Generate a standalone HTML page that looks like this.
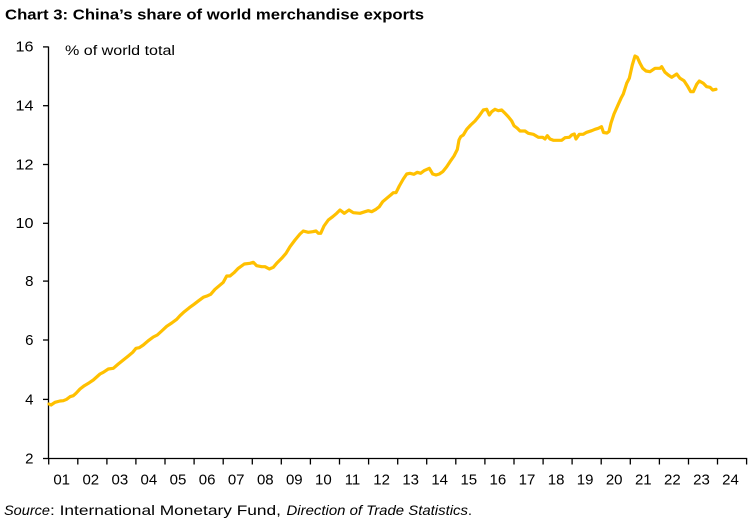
<!DOCTYPE html>
<html>
<head>
<meta charset="utf-8">
<style>
  html,body{margin:0;padding:0;background:#fff;}
  svg{display:block;}
  text{font-family:"Liberation Sans",sans-serif;fill:#000;}
</style>
</head>
<body>
<svg width="753" height="521" viewBox="0 0 753 521" xmlns="http://www.w3.org/2000/svg">
  <rect width="753" height="521" fill="#fff"/>
  <!-- Title -->
  <text x="5" y="19.5" font-size="15" font-weight="bold" textLength="419" lengthAdjust="spacingAndGlyphs">Chart 3: China’s share of world merchandise exports</text>

  <!-- units label -->
  <text x="65" y="55" font-size="13.5" textLength="110" lengthAdjust="spacingAndGlyphs">% of world total</text>

  <!-- Axes -->
  <line x1="48.5" y1="46.5" x2="48.5" y2="459" stroke="#000" stroke-width="1.3"/>
  <line x1="48" y1="458.5" x2="747.2" y2="458.5" stroke="#000" stroke-width="1.3"/>

  <!-- Y ticks -->
  <g stroke="#000" stroke-width="1.3">
    <line x1="43" y1="46.9" x2="48.5" y2="46.9"/>
    <line x1="43" y1="105.7" x2="48.5" y2="105.7"/>
    <line x1="43" y1="164.5" x2="48.5" y2="164.5"/>
    <line x1="43" y1="223.3" x2="48.5" y2="223.3"/>
    <line x1="43" y1="281.1" x2="48.5" y2="281.1"/>
    <line x1="43" y1="340" x2="48.5" y2="340"/>
    <line x1="43" y1="399.4" x2="48.5" y2="399.4"/>
    <line x1="43" y1="458.5" x2="48.5" y2="458.5"/>
  </g>
  <g font-size="15" text-anchor="end">
    <text x="33.5" y="51.5" textLength="18" lengthAdjust="spacingAndGlyphs">16</text>
    <text x="33.5" y="110.5" textLength="18" lengthAdjust="spacingAndGlyphs">14</text>
    <text x="33.5" y="169.3" textLength="18" lengthAdjust="spacingAndGlyphs">12</text>
    <text x="33.5" y="228" textLength="18" lengthAdjust="spacingAndGlyphs">10</text>
    <text x="33.5" y="286">8</text>
    <text x="33.5" y="345">6</text>
    <text x="33.5" y="404.3">4</text>
    <text x="33.5" y="463.3">2</text>
  </g>

  <!-- X ticks -->
  <g stroke="#000" stroke-width="1.3">
    <line x1="48.7" y1="458.5" x2="48.7" y2="464.5"/>
    <line x1="77.8" y1="458.5" x2="77.8" y2="464.5"/>
    <line x1="106.9" y1="458.5" x2="106.9" y2="464.5"/>
    <line x1="135.9" y1="458.5" x2="135.9" y2="464.5"/>
    <line x1="165" y1="458.5" x2="165" y2="464.5"/>
    <line x1="194.1" y1="458.5" x2="194.1" y2="464.5"/>
    <line x1="223.2" y1="458.5" x2="223.2" y2="464.5"/>
    <line x1="252.3" y1="458.5" x2="252.3" y2="464.5"/>
    <line x1="281.3" y1="458.5" x2="281.3" y2="464.5"/>
    <line x1="310.4" y1="458.5" x2="310.4" y2="464.5"/>
    <line x1="339.5" y1="458.5" x2="339.5" y2="464.5"/>
    <line x1="368.6" y1="458.5" x2="368.6" y2="464.5"/>
    <line x1="397.7" y1="458.5" x2="397.7" y2="464.5"/>
    <line x1="426.7" y1="458.5" x2="426.7" y2="464.5"/>
    <line x1="455.8" y1="458.5" x2="455.8" y2="464.5"/>
    <line x1="484.9" y1="458.5" x2="484.9" y2="464.5"/>
    <line x1="514" y1="458.5" x2="514" y2="464.5"/>
    <line x1="543.1" y1="458.5" x2="543.1" y2="464.5"/>
    <line x1="572.1" y1="458.5" x2="572.1" y2="464.5"/>
    <line x1="601.2" y1="458.5" x2="601.2" y2="464.5"/>
    <line x1="630.3" y1="458.5" x2="630.3" y2="464.5"/>
    <line x1="659.4" y1="458.5" x2="659.4" y2="464.5"/>
    <line x1="688.5" y1="458.5" x2="688.5" y2="464.5"/>
    <line x1="717.5" y1="458.5" x2="717.5" y2="464.5"/>
    <line x1="746.6" y1="458.5" x2="746.6" y2="464.5"/>
  </g>
  <g font-size="15" text-anchor="middle">
    <text x="61.7" y="484.3">01</text>
    <text x="90.8" y="484.3">02</text>
    <text x="119.9" y="484.3">03</text>
    <text x="148.9" y="484.3">04</text>
    <text x="178" y="484.3">05</text>
    <text x="207.1" y="484.3">06</text>
    <text x="236.2" y="484.3">07</text>
    <text x="265.3" y="484.3">08</text>
    <text x="294.3" y="484.3">09</text>
    <text x="323.4" y="484.3">10</text>
    <text x="352.5" y="484.3">11</text>
    <text x="381.6" y="484.3">12</text>
    <text x="410.7" y="484.3">13</text>
    <text x="439.7" y="484.3">14</text>
    <text x="468.8" y="484.3">15</text>
    <text x="497.9" y="484.3">16</text>
    <text x="527" y="484.3">17</text>
    <text x="556.1" y="484.3">18</text>
    <text x="585.1" y="484.3">19</text>
    <text x="614.2" y="484.3">20</text>
    <text x="643.3" y="484.3">21</text>
    <text x="672.4" y="484.3">22</text>
    <text x="701.5" y="484.3">23</text>
    <text x="730.5" y="484.3">24</text>
  </g>

  <!-- Data series -->
  <polyline fill="none" stroke="#FFC000" stroke-width="3.2" stroke-linejoin="round" stroke-linecap="round"
    points="49,404 51,405 55,402.3 60,401 63.3,400.7 66.7,399.3 70,396.7 73.3,395.7 76,393.3 80,389 84.3,385.7 89.3,382.7 93.3,380 100,374 103.3,372.3 108.3,369 113.3,368.3 118.3,364 123.3,360 128.3,356 132.7,352.3 136,348.3 139.3,347.7 143.3,345 148.3,340.7 153.3,337 157.3,335 161.7,331 166.7,326.3 171.7,323 176.7,319.3 180,315.7 184.3,311.7 189.3,307.7 194,304.3 198.7,300.7 203.3,297.3 207.7,295.7 210.7,294.3 215,289.3 219.3,285.7 223.3,282.3 226.7,276 230,276 234,272.7 238.3,268.3 244.3,264 250,263.3 253.3,262.3 256.7,265.7 261.7,266.7 265,266.7 269.3,269 273.3,267.3 276.7,263.3 281.7,258.3 286,253.3 290,246.7 295,240 300,234 303.3,231 308.3,232.3 312.7,231.7 316,231 318.3,233.3 320.7,233.3 324,226 328.3,220 332.7,216.7 336.7,213.3 340,210 344.3,213.3 349,210 353.3,212.7 360,213.3 365,211.7 368.3,210.7 371.7,211.7 376,209.3 379.3,206.7 382.7,201.7 386.7,198.3 390.7,195 393.3,192.7 396,192.7 399.3,186 403.3,179 406.7,174 410,173.3 414,174.3 417.3,172.3 420.7,173.3 424,170.7 429.3,168.3 432.7,174 436,175 439.3,174 442.7,171.7 446.7,166.7 450,161.7 454,156 457.3,149.5 459,140 460.7,136.7 463.3,135 466.7,129.3 470.7,125 475,121 479.3,115.7 483.3,110 486.7,109.3 489.3,115 491.7,111.7 495,109.3 498.3,110.7 501.7,110 505,113.3 508.3,116.7 511.7,121 514,125.7 517.3,128.3 520,131 525,131 528.3,133.3 533.3,134.3 538.3,137.3 542.7,137.3 545,139 547.3,135.7 550,139 553.3,140.3 561.7,140.3 565,137.7 569.3,137.3 571.7,135 574.3,134 576,139 579.3,134.3 583.3,134.3 586.7,132.3 591.7,130.7 595,129.3 598.3,128.3 601.5,126.7 603.5,132.5 607,133 609,131.5 611,123 614,114 618.3,104.3 621,98.3 623.3,94 626.7,83.3 629.3,78.3 632.3,65 635,56 637.3,57.3 640,63.3 642.7,68.3 646,71 650,71.7 655,68.3 660,68.3 661.7,66.7 665,72.3 668.3,75 671.7,77.3 676.7,74 680,78.3 684,80.7 687.3,85.7 690.7,91.7 693.3,91.7 696.7,84.3 699.3,81 703.3,83.3 706.7,86.7 710,87.3 712.7,90 716,89.3"/>

  <!-- Source -->
  <g font-size="14">
    <text x="4" y="515" font-style="italic" textLength="46" lengthAdjust="spacingAndGlyphs">Source</text>
    <text x="50" y="515" textLength="231" lengthAdjust="spacingAndGlyphs">: International Monetary Fund,</text>
    <text x="286.5" y="515" font-style="italic" textLength="181.5" lengthAdjust="spacingAndGlyphs">Direction of Trade Statistics</text>
    <text x="468" y="515">.</text>
  </g>
</svg>
</body>
</html>
